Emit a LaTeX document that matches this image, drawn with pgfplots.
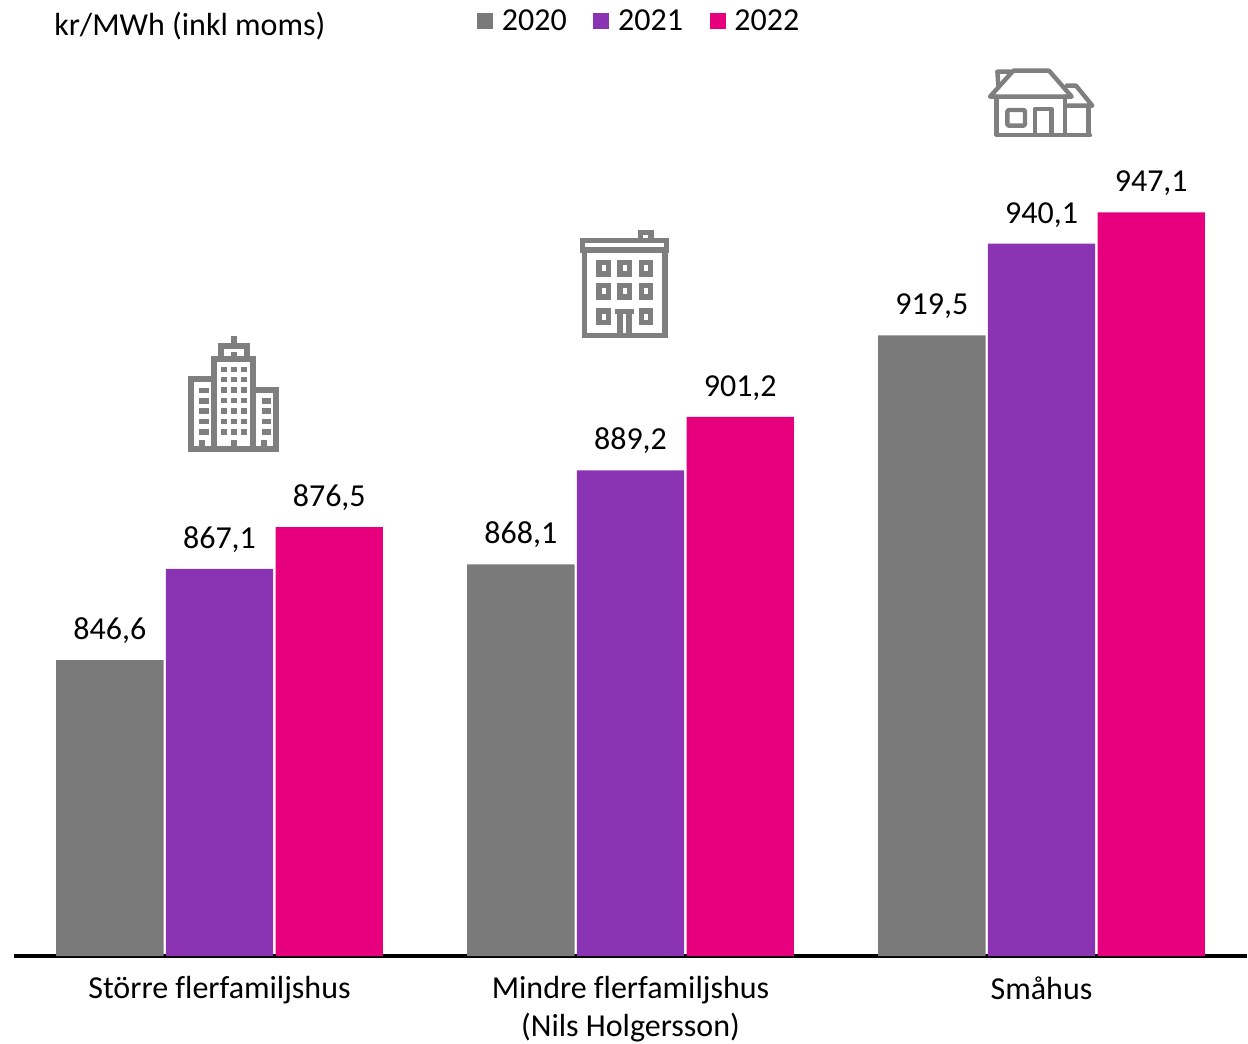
\documentclass[border=0pt]{standalone}
\usepackage{fontspec}
\setmainfont[Ligatures=NoCommon]{Carlito}
\usepackage{pgfplots}
\pgfplotsset{compat=1.18}
\definecolor{cgray}{HTML}{7A7A7A}
\definecolor{cpurple}{HTML}{8A33B3}
\definecolor{cpink}{HTML}{E6007E}
\definecolor{icon}{HTML}{7F7F7F}
\begin{document}
\begin{tikzpicture}[font=\fontsize{24}{29.3}\selectfont]
\useasboundingbox (-10.5pt,717pt) rectangle +(936pt,-782.25pt);
\begin{axis}[
  scale only axis, width=924.75pt, height=717pt,
  xmin=-0.5, xmax=2.5, ymin=780.2, ymax=994.8,
  axis x line*=bottom, axis y line=none,
  x axis line style={line width=2.4pt,-},
  xtick=data, xticklabels={Större flerfamiljshus,{Mindre flerfamiljshus\\(Nils Holgersson)},Småhus},
  major tick length=0pt,
  xticklabel style={align=center, font=\fontsize{24}{28.4}\selectfont, yshift=-12pt},
  ybar=1.7pt, bar width=80.6pt,
  clip=false,
  nodes near coords,
  every node near coord/.append style={font=\fontsize{24}{29}\selectfont, text=black, yshift=8.9pt,
    /pgf/number format/.cd, use comma, fixed, fixed zerofill, precision=1, assume math mode=true},
  legend columns=3,
  legend style={draw=none, fill=none, anchor=west, at={(axis description cs:0.3755,0.978)}, inner sep=0pt,
    font=\fontsize{24}{29}\selectfont,
    /tikz/every even column/.append style={column sep=18pt},
    nodes={inner sep=2pt}},
  legend image code/.code={\fill[#1] (0pt,-6pt) rectangle (12pt,6pt); \path (16.5pt,0pt) circle (0pt);},
]
\addplot[fill=cgray,draw=none] coordinates {(0,846.6) (1,868.1) (2,919.5)};
\addplot[fill=cpurple,draw=none] coordinates {(0,867.1) (1,889.2) (2,940.1)};
\addplot[fill=cpink,draw=none] coordinates {(0,876.5) (1,901.2) (2,947.1)};
\legend{2020,2021,2022}
\end{axis}
\begin{scope}[x=.75pt,y=-.75pt,xshift=-10.5pt,yshift=717pt]
\node[anchor=west,inner sep=0pt] at (54,26.5) {kr/MWh (inkl moms)};
\end{scope}
% icon 1: tall building
\begin{scope}[x=.25pt,y=-.25pt,xshift=117pt,yshift=473.25pt,draw=icon,line width=4.6pt]
\draw (132,372) -- (132,103) -- (250,103) -- (250,372);
\draw (153,103) -- (153,62) -- (230,62) -- (230,103);
\draw (191,33) -- (191,62);
\draw (191,80) -- (191,103);
\draw (132,162) -- (64,162) -- (64,372);
\draw (250,195) -- (319,195) -- (319,372);
\draw (55,372) -- (328,372);
\fill[icon] (87,188) rectangle (117,204); \fill[icon] (87,219) rectangle (117,236);
\fill[icon] (87,250) rectangle (117,267); \fill[icon] (87,282) rectangle (117,298);
\fill[icon] (87,313) rectangle (117,330);
\fill[icon] (275,219) rectangle (303,236); \fill[icon] (275,250) rectangle (303,267);
\fill[icon] (275,282) rectangle (303,298); \fill[icon] (275,313) rectangle (303,330);
\foreach \yy in {133,164,195,226,258,290,321}{
  \foreach \xx in {162,192,222}{
    \fill[icon] (\xx-9,\yy-8) rectangle (\xx+9,\yy+8);}}
\fill[icon] (86,345) rectangle (104,372);
\fill[icon] (182,345) rectangle (200,372);
\fill[icon] (274,345) rectangle (292,372);
\end{scope}
% icon 2: apartment block
\begin{scope}[x=.25pt,y=-.25pt,xshift=413.25pt,yshift=552pt,draw=icon,line width=4.2pt]
\draw (52,62) rectangle (305,90);
\draw (59,90) -- (59,346) -- (300,346) -- (300,90);
\draw (227,55) -- (227,38) -- (258,38) -- (258,55);
\foreach \yy in {145,214,290}{
  \foreach \xx in {116,179,243}{
    \ifnum\yy=290 \ifnum\xx=179 \else
      \draw (\xx-14,\yy-17) rectangle (\xx+14,\yy+17);
    \fi \else
      \draw (\xx-14,\yy-17) rectangle (\xx+14,\yy+17);
    \fi}}
\draw (150,274) -- (207,274);
\draw (165,274) -- (165,346);
\draw (192,274) -- (192,346);
\end{scope}
% icon 3: house
\begin{scope}[x=.25pt,y=-.25pt,xshift=720.75pt,yshift=675.75pt,draw=icon,line width=3.3pt,line join=round,line cap=round]
\draw (45,125) -- (115,47) -- (222,47) -- (290,125) -- cycle;
\draw (70,92) -- (67,50) -- (105,50);
\draw (65,125) -- (65,240) -- (345,240);
\draw (270,125) -- (270,240);
\draw (275,92) -- (303,92) -- (352,152) -- (277,152);
\draw (340,152) -- (340,240);
\draw[rounded corners=1pt] (97,165) rectangle (150,212);
\draw (180,240) -- (180,162) -- (230,162) -- (230,240);
\end{scope}
\end{tikzpicture}
\end{document}
